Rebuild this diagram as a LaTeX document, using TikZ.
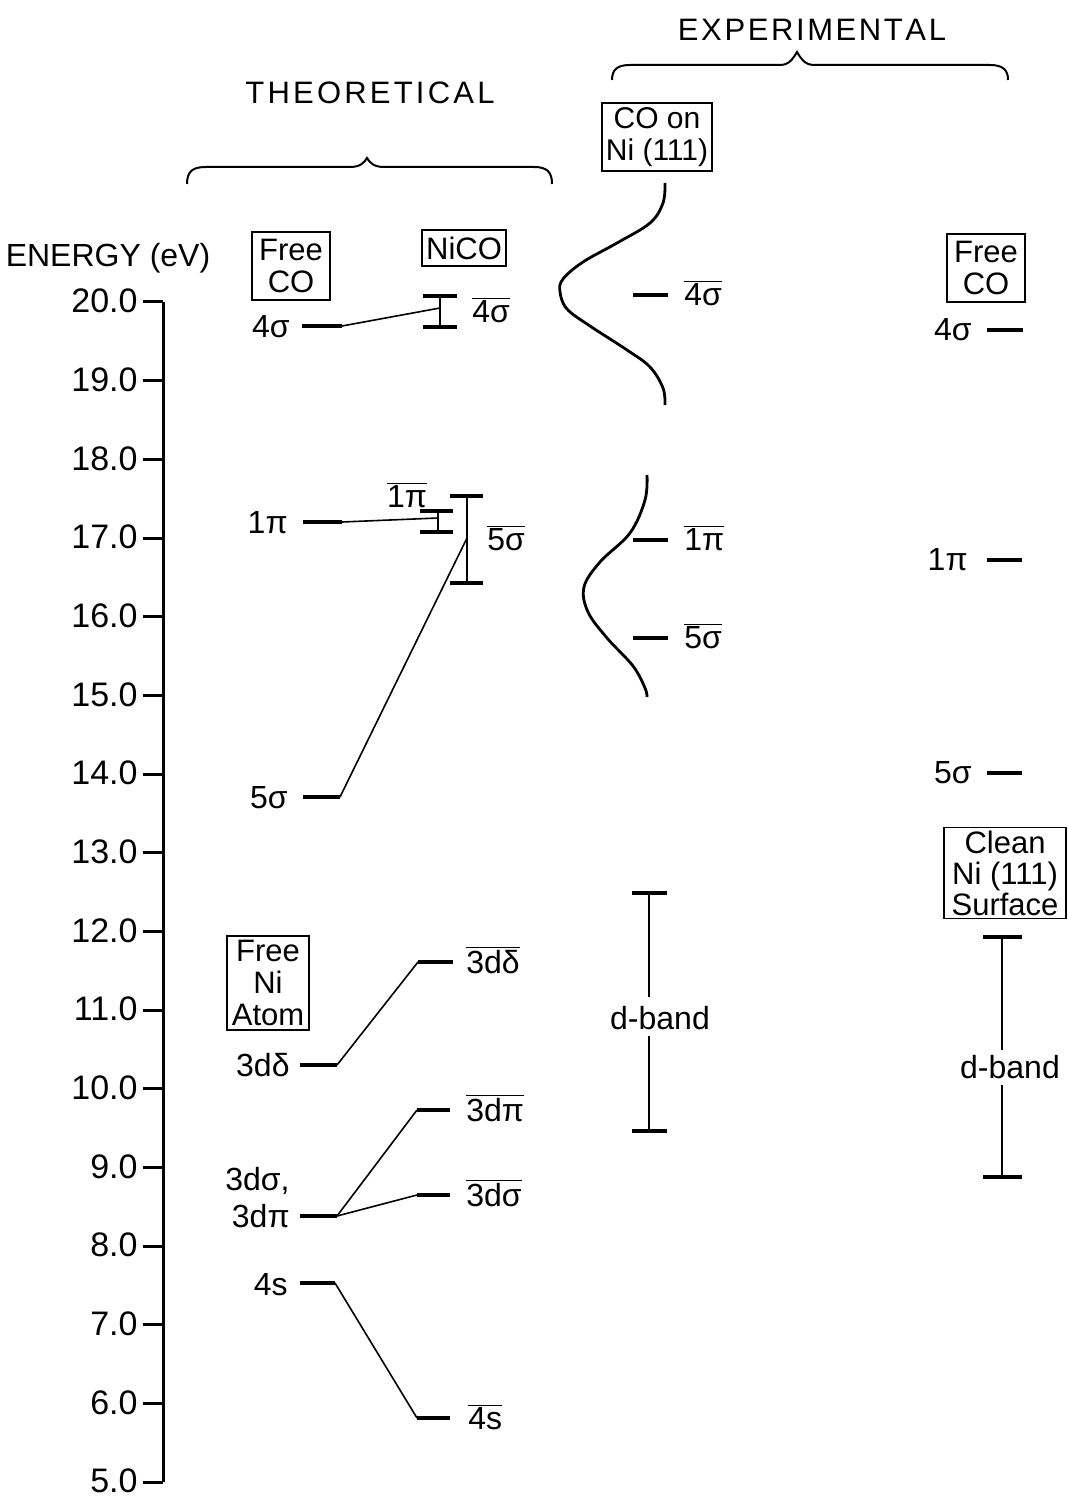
\documentclass[tikz,border=0pt]{standalone}
\usepackage{fontspec}
\setmainfont{Liberation Sans}
\newcommand\ob[1]{\ensuremath{\overline{\mbox{#1}}}}
\begin{document}
\begin{tikzpicture}[x=0.5pt,y=-0.5pt,
  lvl/.style={line width=1.8pt},
  conn/.style={line width=0.8pt},
  axisl/.style={line width=1.5pt},
  crv/.style={line width=1.4pt},
  lab/.style={font=\fontsize{16}{17.5}\selectfont, inner sep=0pt},
  numl/.style={font=\fontsize{17}{19}\selectfont, inner sep=0pt, anchor=east},
  head/.style={font=\fontsize{15.5}{18}\selectfont, inner sep=0pt},
  boxl/.style={draw, line width=0.7pt, font=\fontsize{15.5}{16}\selectfont, align=center, inner sep=2pt}]
\useasboundingbox (0,0) rectangle (1068,1497);
% ---------- axis ----------
\node[head, font=\fontsize{16}{18}\selectfont] (energy) at (108,258) {ENERGY (eV)};
\coordinate (axtop) at (163,302);
\coordinate (axbot) at (163,1482);
\draw[axisl] (axtop) -- (axbot);
\foreach \e in {5,...,20}{
  \pgfmathsetmacro\yy{302+(20-\e)*78.67}
  \draw[axisl] (143,\yy) -- (163,\yy);
  \node[numl] (ax\e) at (138,\yy-1) {\e.0};
}
% ---------- headings and braces ----------
\node[head] (theo) at (370,93) {T\kern1.6pt H\kern1.6pt E\kern1.6pt O\kern1.6pt R\kern1.6pt E\kern1.6pt T\kern1.6pt I\kern1.6pt C\kern1.6pt A\kern1.6pt L};
\node[head] (expt) at (812,30) {E\kern1.3pt X\kern1.3pt P\kern1.3pt E\kern1.3pt R\kern1.3pt I\kern1.3pt M\kern1.3pt E\kern1.3pt N\kern1.3pt T\kern1.3pt A\kern1.3pt L};
\draw[conn,line width=1pt] (187,184) .. controls (187,171) and (193,167) .. (206,167) -- (350,167)
  .. controls (360,167) and (364,163) .. (367,158) .. controls (370,163) and (374,167) .. (384,167)
  -- (534,167) .. controls (547,167) and (552,172) .. (552,184);
\draw[conn,line width=1pt] (612,80) .. controls (612,69) and (618,65) .. (630,65) -- (780,65)
  .. controls (790,65) and (794,57) .. (797,52) .. controls (800,57) and (804,65) .. (814,65)
  -- (990,65) .. controls (1003,65) and (1008,70) .. (1008,80);
% ---------- theoretical: boxes ----------
\node[boxl, minimum width=39pt, minimum height=34pt] (freeco) at (291,266) {Free\\CO};
\node[boxl, minimum width=42pt, minimum height=18pt] (nico) at (464,248) {NiCO};
\node[boxl, minimum width=41pt, minimum height=47pt] (freeni) at (268,983) {Free\\Ni\\Atom};
% ---------- 4 sigma ----------
\node[lab, anchor=east] (l4s) at (290,327) {4σ};
\coordinate (a4sL) at (302,326); \coordinate (a4sR) at (342,326);
\draw[lvl] (a4sL) -- (a4sR);
\coordinate (b4sT) at (440,296); \coordinate (b4sB) at (440,327); \coordinate (b4sM) at (440,308);
\draw[lvl] (423,296) -- (457,296); \draw[lvl] (423,327) -- (457,327);
\draw[conn,line width=1pt] (b4sT) -- (b4sB);
\draw[conn] (a4sR) -- (b4sM);
\node[lab, anchor=west] (r4s) at (472,310) {\ob{4σ}};
% ---------- 1 pi ----------
\node[lab, anchor=east] (l1p) at (288,523) {1π};
\coordinate (a1pL) at (303,522); \coordinate (a1pR) at (342,522);
\draw[lvl] (a1pL) -- (a1pR);
\coordinate (b1pT) at (438,511); \coordinate (b1pB) at (438,532); \coordinate (b1pM) at (438,518);
\draw[lvl] (420,511) -- (453,511); \draw[lvl] (420,532) -- (453,532);
\draw[conn,line width=1pt] (b1pT) -- (b1pB);
\draw[conn] (a1pR) -- (b1pM);
\node[lab] (r1p) at (407,495) {\ob{1π}};
% ---------- 5 sigma ----------
\node[lab, anchor=east] (l5s) at (288,798) {5σ};
\coordinate (a5sL) at (303,797); \coordinate (a5sR) at (340,797);
\draw[lvl] (a5sL) -- (a5sR);
\coordinate (b5sT) at (467,496); \coordinate (b5sB) at (467,583); \coordinate (b5sM) at (467,538);
\draw[lvl] (450,496) -- (483,496); \draw[lvl] (450,583) -- (483,583);
\draw[conn,line width=1pt] (b5sT) -- (b5sB);
\draw[conn] (a5sR) -- (b5sM);
\node[lab, anchor=west] (r5s) at (487,538) {\ob{5σ}};
% ---------- Ni levels ----------
\node[lab, anchor=east] (l3dd) at (290,1065) {3dδ};
\coordinate (a3ddL) at (300,1065); \coordinate (a3ddR) at (337,1065);
\coordinate (b3ddL) at (418,962); \coordinate (b3ddR) at (453,962);
\draw[lvl] (a3ddL) -- (a3ddR); \draw[lvl] (b3ddL) -- (b3ddR);
\draw[conn] (a3ddR) -- (b3ddL);
\node[lab, anchor=west] (r3dd) at (466,960) {\ob{3dδ}};
\node[lab, anchor=east, align=right] (l3dsp) at (290,1198) {3dσ,\\[1pt]3dπ};
\coordinate (a3dL) at (300,1216); \coordinate (a3dR) at (337,1216);
\coordinate (b3dpL) at (417,1110); \coordinate (b3dpR) at (450,1110);
\coordinate (b3dsL) at (417,1195); \coordinate (b3dsR) at (450,1195);
\draw[lvl] (a3dL) -- (a3dR); \draw[lvl] (b3dpL) -- (b3dpR); \draw[lvl] (b3dsL) -- (b3dsR);
\draw[conn] (a3dR) -- (b3dpL); \draw[conn] (a3dR) -- (b3dsL);
\node[lab, anchor=west] (r3dp) at (466,1108) {\ob{3dπ}};
\node[lab, anchor=west] (r3ds) at (466,1193) {\ob{3dσ}};
\node[lab, anchor=east] (l4sN) at (288,1285) {4s};
\coordinate (a4sNL) at (300,1283); \coordinate (a4sNR) at (335,1283);
\coordinate (b4sNL) at (417,1418); \coordinate (b4sNR) at (450,1418);
\draw[lvl] (a4sNL) -- (a4sNR); \draw[lvl] (b4sNL) -- (b4sNR);
\draw[conn] (a4sNR) -- (b4sNL);
\node[lab, anchor=west] (r4sN) at (468,1417) {\ob{4s}};
% ---------- experimental: CO on Ni(111) ----------
\node[boxl, font=\fontsize{15}{16}\selectfont, minimum width=52pt, minimum height=34pt] (coni) at (657,137) {CO on\\Ni (111)};
\draw[crv] plot[smooth, tension=0.6] coordinates {(665,183) (663,203) (650,223) (617,243) (583,262) (563,279) (560,292) (567,309) (590,326) (627,350) (650,367) (663,388) (665,405)};
\draw[crv] plot[smooth, tension=0.6] coordinates {(647,475) (645,500) (630,533) (600,562) (584,587) (588,612) (607,638) (633,666) (645,688) (647,697)};
\coordinate (e4sL) at (633,295); \coordinate (e4sR) at (668,295);
\draw[lvl] (e4sL) -- (e4sR);
\node[lab, anchor=west] (x4s) at (684,293) {\ob{4σ}};
\coordinate (e1pL) at (633,540); \coordinate (e1pR) at (668,540);
\draw[lvl] (e1pL) -- (e1pR);
\node[lab, anchor=west] (x1p) at (684,538) {\ob{1π}};
\coordinate (e5sL) at (633,638); \coordinate (e5sR) at (668,638);
\draw[lvl] (e5sL) -- (e5sR);
\node[lab, anchor=west] (x5s) at (684,636) {\ob{5σ}};
\node[lab] (dband1) at (660,1018) {d-band};
\coordinate (dtop1) at (649,893); \coordinate (dbot1) at (649,1131);
\coordinate (dmid1a) at (649,997); \coordinate (dmid1b) at (649,1036);
\draw[lvl] (632,893) -- (667,893); \draw[lvl] (632,1131) -- (667,1131);
\draw[conn,line width=1.2pt] (dtop1) -- (dmid1a);
\draw[conn,line width=1.2pt] (dbot1) -- (dmid1b);
% ---------- experimental: Free CO ----------
\node[boxl, minimum width=39pt, minimum height=34pt] (freeco2) at (986,268) {Free\\CO};
\node[lab, anchor=east] (y4s) at (972,330) {4σ};
\coordinate (f4sL) at (987,330); \coordinate (f4sR) at (1023,330);
\draw[lvl] (f4sL) -- (f4sR);
\node[lab, anchor=east] (y1p) at (968,560) {1π};
\coordinate (f1pL) at (987,560); \coordinate (f1pR) at (1022,560);
\draw[lvl] (f1pL) -- (f1pR);
\node[lab, anchor=east] (y5s) at (972,773) {5σ};
\coordinate (f5sL) at (987,773); \coordinate (f5sR) at (1022,773);
\draw[lvl] (f5sL) -- (f5sR);
% ---------- clean Ni(111) ----------
\node[boxl, font=\fontsize{15.5}{15.5}\selectfont, minimum width=61pt, minimum height=44pt, inner sep=1.5pt] (clean) at (1005,873) {Clean\\Ni (111)\\Surface};
\node[lab] (dband2) at (1010,1067) {d-band};
\coordinate (dtop2) at (1002,937); \coordinate (dbot2) at (1002,1177);
\coordinate (dmid2a) at (1002,1050); \coordinate (dmid2b) at (1002,1085);
\draw[lvl] (983,937) -- (1022,937); \draw[lvl] (983,1177) -- (1022,1177);
\draw[conn,line width=1.2pt] (dtop2) -- (dmid2a);
\draw[conn,line width=1.2pt] (dbot2) -- (dmid2b);
\end{tikzpicture}
\end{document}
